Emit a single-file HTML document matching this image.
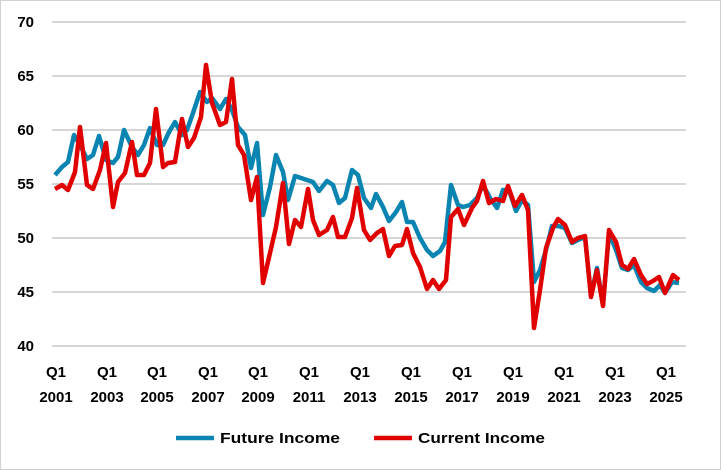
<!DOCTYPE html>
<html><head><meta charset="utf-8"><style>
body{margin:0;background:#fff}
svg{display:block}
text{font-family:"Liberation Sans",Arial,sans-serif;font-weight:bold;fill:#000;font-size:15px}
</style></head><body>
<svg width="721" height="470" viewBox="0 0 721 470">
<rect x="0.5" y="0.5" width="720" height="469" fill="#fff" stroke="#d0d0d0"/>
<g stroke="#c8c8c8" stroke-width="1.5">
<line x1="52" x2="686" y1="22" y2="22"/><line x1="52" x2="686" y1="76" y2="76"/>
<line x1="52" x2="686" y1="130" y2="130"/><line x1="52" x2="686" y1="184" y2="184"/>
<line x1="52" x2="686" y1="238" y2="238"/><line x1="52" x2="686" y1="292" y2="292"/>
<line x1="52" x2="686" y1="346" y2="346"/>
</g>
<g text-anchor="end">
<text x="34" y="27">70</text><text x="34" y="81">65</text><text x="34" y="135">60</text>
<text x="34" y="189">55</text><text x="34" y="243">50</text><text x="34" y="297">45</text><text x="34" y="351">40</text>
</g>
<g text-anchor="middle">
<text x="56" y="377">Q1</text><text x="56" y="402">2001</text>
<text x="107" y="377">Q1</text><text x="107" y="402">2003</text>
<text x="157" y="377">Q1</text><text x="157" y="402">2005</text>
<text x="208" y="377">Q1</text><text x="208" y="402">2007</text>
<text x="258" y="377">Q1</text><text x="258" y="402">2009</text>
<text x="309" y="377">Q1</text><text x="309" y="402">2011</text>
<text x="360" y="377">Q1</text><text x="360" y="402">2013</text>
<text x="411" y="377">Q1</text><text x="411" y="402">2015</text>
<text x="462" y="377">Q1</text><text x="462" y="402">2017</text>
<text x="513" y="377">Q1</text><text x="513" y="402">2019</text>
<text x="564" y="377">Q1</text><text x="564" y="402">2021</text>
<text x="615" y="377">Q1</text><text x="615" y="402">2023</text>
<text x="666" y="377">Q1</text><text x="666" y="402">2025</text>
</g>
<polyline fill="none" stroke="#0a84b0" stroke-width="4.5" stroke-linejoin="round" points="55,175 62,167 68,162 74,135 80,145 87,159 93,155 99,136 106,160 113,163 118,157 124,130 132,147 138,155 144,145 150,128 157,145 163,145 169,132 175,122 182,135 187,130 193,113 200,92 207,102 212,98 220,109 226,99 232,110 238,127 245,135 251,168 257,143 263,215 270,187 276,155 283,172 288,200 295,176 313,182 319,191 327,181 333,185 339,203 345,198 352,170 358,175 364,198 371,208 376,194 383,207 389,221 396,212 402,202 407,222 413,222 420,238 427,250 433,256 440,251 445,242 451,185 458,205 463,207 470,205 477,198 483,185 490,198 497,208 503,190 509,190 516,211 522,200 528,205 534,282 540,270 546,250 552,226 558,226 565,228 572,243 578,240 585,237 591,296 597,268 603,305 609,233 616,250 622,268 628,270 634,265 641,282 647,288 654,291 660,285 665,293 672,282 679,283"/>
<polyline fill="none" stroke="#e00000" stroke-width="4.5" stroke-linejoin="round" points="55,189 62,185 68,190 75,172 80,127 87,185 93,189 100,170 106,143 113,207 118,182 125,173 132,142 137,175 144,175 150,163 156,109 163,167 168,163 175,162 182,119 188,147 194,138 201,117 206,65 212,103 220,125 226,122 232,79 238,145 244,155 251,200 257,177 263,283 270,253 276,227 283,183 289,244 295,220 301,227 308,189 313,220 319,235 327,230 333,217 338,237 345,237 352,218 357,188 364,230 370,240 377,233 383,229 389,256 395,246 402,245 407,229 413,253 420,267 427,289 433,280 439,289 446,280 451,217 458,209 464,225 472,208 477,201 483,181 489,203 496,199 503,201 508,186 515,206 522,195 528,210 534,328 540,290 546,248 553,228 558,219 565,225 572,242 578,238 585,236 591,297 597,270 603,306 609,230 616,242 622,265 628,269 634,259 641,275 647,284 653,281 659,277 665,293 673,275 679,280"/>
<line x1="176" x2="214" y1="438" y2="438" stroke="#0a84b0" stroke-width="4.5"/>
<text x="220" y="443" textLength="120" lengthAdjust="spacingAndGlyphs">Future Income</text>
<line x1="374" x2="412" y1="438" y2="438" stroke="#e00000" stroke-width="4.5"/>
<text x="418" y="443" textLength="127" lengthAdjust="spacingAndGlyphs">Current Income</text>
</svg>
</body></html>
